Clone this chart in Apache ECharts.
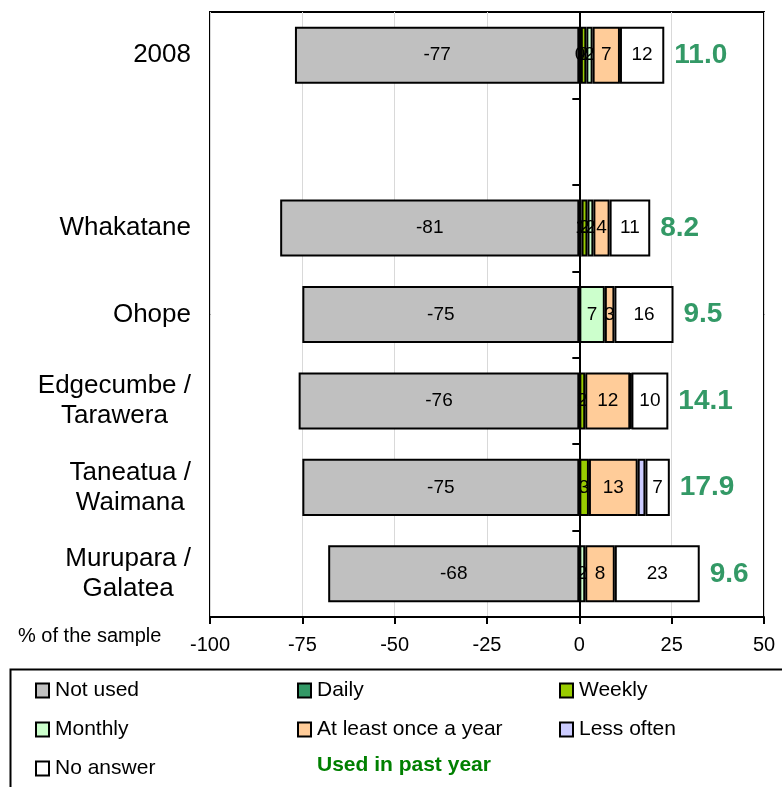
<!DOCTYPE html>
<html>
<head>
<meta charset="utf-8">
<script src="https://cdn.jsdelivr.net/npm/echarts@6/dist/echarts.min.js"></script>
<style>
html,body{margin:0;padding:0;background:#fff;}
#chart{width:782px;height:787px;}
</style>
</head>
<body>
<div id="chart"></div>
<script>
var categories = ['2008', '', 'Whakatane', 'Ohope', 'Edgecumbe /\nTarawera', 'Taneatua /\nWaimana', 'Murupara /\nGalatea'];
var notUsed  = [-77, null, -81, -75, -76, -75, -68];
var daily    = [0.4, null, 0.6, null, null, null, null];
var weekly   = [1.5, null, 1.6, null, 1.6, 2.6, null];
var monthly  = [1.7, null, 1.6, 6.9, null, null, 1.6];
var yearly   = [7.4, null, 4.4, 2.6, 12.2, 13.2, 8.0];
var lessOften= [null, null, null, null, 0.3, 2.1, null];
var noAnswer = [12, null, 11, 16, 10, 6.6, 23];
var usedPastYear = [11.0, null, 8.2, 9.5, 14.1, 17.9, 9.6];
var xTicks = [-100, -75, -50, -25, 0, 25, 50];

var FONT = "'Liberation Sans', Arial, sans-serif";
var chart = echarts.init(document.getElementById('chart'), null, {renderer: 'canvas'});

function barSeries(name, data, color, showLabel) {
  return {
    name: name, type: 'bar', stack: 'all', data: data,
    yAxisIndex: 0,
    barCategoryGap: '34%',
    itemStyle: {color: color, borderColor: '#000', borderWidth: 2},
    label: {
      show: showLabel, position: 'inside', color: '#000', fontSize: 19, fontFamily: FONT,
      formatter: function (p) { return p.value == null ? '' : String(Math.round(p.value)); }
    },
    emphasis: {disabled: true},
    animation: false
  };
}

var series = [
  barSeries('Not used', notUsed, '#C0C0C0', true),
  barSeries('Daily', daily, '#339966', true),
  barSeries('Weekly', weekly, '#99CC00', true),
  barSeries('Monthly', monthly, '#CCFFCC', true),
  barSeries('At least once a year', yearly, '#FFCC99', true),
  barSeries('Less often', lessOften, '#CCCCFF', false),
  barSeries('No answer', noAnswer, '#FFFFFF', true),
  {
    name: 'used', type: 'bar', stack: 'all', yAxisIndex: 0,
    data: usedPastYear.map(function (v) { return v == null ? null : 0.0001; }),
    itemStyle: {color: 'rgba(0,0,0,0)', borderWidth: 0},
    label: {
      show: true, position: 'right', distance: 10, color: '#339966', fontSize: 28, fontWeight: 'bold', fontFamily: FONT,
      formatter: function (p) { var v = usedPastYear[p.dataIndex]; return v == null ? '' : v.toFixed(1); }
    },
    emphasis: {disabled: true},
    animation: false
  }
];

function richLabel(v) {
  if (v.indexOf('\n') < 0) return v;
  return v.split('\n').map(function (s) { return '{c|' + s + '}'; }).join('\n');
}

var legendNames = [
  ['Not used', 35, 680], ['Daily', 297, 680], ['Weekly', 559, 680],
  ['Monthly', 35, 719], ['At least once a year', 297, 719], ['Less often', 559, 719],
  ['No answer', 35, 758]
];

var option = {
  backgroundColor: '#fff',
  animation: false,
  textStyle: {fontFamily: FONT},
  grid: {left: 210, right: 18, top: 12, bottom: 170, show: true, borderColor: '#000', borderWidth: 2, backgroundColor: 'transparent'},
  xAxis: {
    type: 'value', min: -100, max: 50, interval: 25,
    axisLine: {show: true, onZero: false, lineStyle: {color: '#000', width: 2}},
    axisTick: {show: true, length: 7, lineStyle: {color: '#000', width: 2}},
    axisLabel: {color: '#000', fontSize: 20, margin: 18, fontFamily: FONT,
      formatter: function (v) { return xTicks.indexOf(v) >= 0 ? String(v) : ''; }},
    splitLine: {show: true, lineStyle: {color: '#D9D9D9', width: 1}}
  },
  yAxis: [
    {
      type: 'category', data: categories, inverse: true, position: 'left',
      axisLine: {show: false, onZero: false},
      axisTick: {show: false},
      axisLabel: {
        color: '#000', fontSize: 26, margin: 19, fontFamily: FONT, lineHeight: 30,
        formatter: richLabel,
        rich: {c: {align: 'center', fontSize: 26, fontFamily: FONT, color: '#000', lineHeight: 30}}
      },
      splitLine: {show: false}
    },
    {
      type: 'category', data: categories, inverse: true, position: 'left',
      axisLine: {show: true, onZero: true, lineStyle: {color: '#000', width: 2}},
      axisTick: {show: true, length: 7, inside: false, lineStyle: {color: '#000', width: 2}},
      axisLabel: {show: false},
      splitLine: {show: false}
    }
  ],
  legend: legendNames.map(function (l) {
    return {
      data: [l[0]], left: l[1], top: l[2], orient: 'horizontal', padding: 0,
      icon: 'rect', itemWidth: 13, itemHeight: 14, itemGap: 0,
      selectedMode: false,
      textStyle: {fontSize: 21, color: '#000', fontFamily: FONT, padding: [0, 0, 0, 1]},
      itemStyle: {borderColor: '#000', borderWidth: 2}
    };
  }),
  graphic: [
    {type: 'rect', left: 8, top: 667, shape: {width: 800, height: 200}, style: {fill: 'none', stroke: '#000', lineWidth: 2}, silent: true, z: -1},
    {type: 'text', left: 317, top: 755, style: {text: 'Used in past year', fill: '#008000', font: 'bold 21px ' + FONT}},
    {type: 'text', left: 18, top: 626, style: {text: '% of the sample', fill: '#000', font: '20px ' + FONT}}
  ],
  series: series
};
chart.setOption(option);
</script>
</body>
</html>
